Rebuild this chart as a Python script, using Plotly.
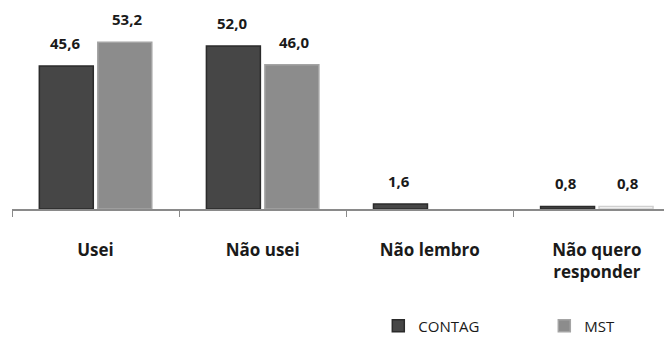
import plotly.graph_objects as go

categories = ["Usei", "Não usei", "Não lembro", "Não quero<br>responder"]
contag = [45.6, 52.0, 1.6, 0.8]
mst = [53.2, 46.0, None, 0.8]
contag_labels = ["45,6", "52,0", "1,6", "0,8"]
mst_labels = ["53,2", "46,0", "", "0,8"]

fig = go.Figure()
fig.add_trace(go.Bar(
    name="CONTAG", x=categories, y=contag,
    marker=dict(color="#464646", line=dict(color="#2b2b2b", width=1.5)),
))
fig.add_trace(go.Bar(
    name="MST", x=categories, y=mst,
    marker=dict(color=["#8c8c8c", "#8c8c8c", "#8c8c8c", "#fafafa"],
                line=dict(color=["#a4a4a4", "#a4a4a4", "#a4a4a4", "#d0d0d0"], width=1.5)),
))

for i, cat in enumerate(categories):
    for vals, labs, xs in ((contag, contag_labels, -31), (mst, mst_labels, 31)):
        v = vals[i]
        if v is None or not labs[i]:
            continue
        fig.add_annotation(x=cat, y=v, text=labs[i], showarrow=False,
                           xshift=xs, yshift=23, yanchor="middle",
                           font=dict(family="Open Sans", size=15, color="#1a1a1a", weight="bold"))

# page body has an 8px margin, so margins are offset by 8px
fig.update_layout(
    width=672, height=338,
    margin=dict(l=4, r=8, t=13, b=137, autoexpand=False),
    paper_bgcolor="white", plot_bgcolor="white",
    barmode="group", bargap=0.3, bargroupgap=0.077,
    showlegend=True,
    legend=dict(orientation="h", x=0.555, y=-0.622, xanchor="left", yanchor="middle",
                entrywidth=121, entrywidthmode="pixels",
                font=dict(family="Open Sans", size=15, color="#1a1a1a")),
    font=dict(family="Open Sans"),
)
fig.update_xaxes(
    range=[-0.5, 3.45], showline=True, linecolor="#8a8a8a", linewidth=1.5,
    ticks="outside", tickson="boundaries", tickcolor="#8a8a8a", ticklen=6,
    ticklabelstandoff=25,
    showgrid=False, tickfont=dict(family="Open Sans", size=17, color="#1a1a1a", weight="bold"),
)
fig.update_yaxes(range=[0, 60], visible=False, showgrid=False, zeroline=False)

fig.write_html("out.html")
